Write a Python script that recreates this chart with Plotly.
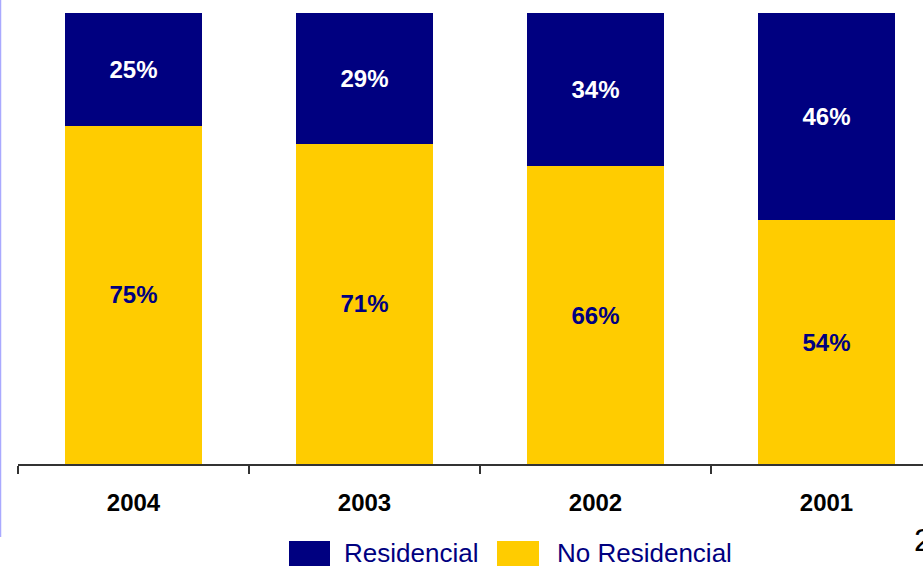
import plotly.graph_objects as go

# Share of residential vs non-residential, by year
years = ["2004", "2003", "2002", "2001"]
residencial = [25, 29, 34, 46]
no_residencial = [75, 71, 66, 54]

NAVY = "#000080"
GOLD = "#FFCC00"
FONT = "Liberation Sans, Arial, sans-serif"

W, H = 923, 566
M_L, M_R, M_T, M_B = 18, 0, 13, 102
PW = W - M_L - M_R
PH = H - M_T - M_B


def px_x(p):
    return (p - M_L) / PW


def px_y(p):
    return (H - M_B - p) / PH


fig = go.Figure()
fig.add_trace(go.Bar(
    x=years, y=no_residencial, name="No Residencial",
    marker=dict(color=GOLD, line=dict(width=0)),
    texttemplate="<b>%{y}%</b>", textposition="inside",
    insidetextanchor="middle", textangle=0,
    textfont=dict(family=FONT, size=24, color=NAVY),
    showlegend=False,
))
fig.add_trace(go.Bar(
    x=years, y=residencial, name="Residencial",
    marker=dict(color=NAVY, line=dict(width=0)),
    texttemplate="<b>%{y}%</b>", textposition="inside",
    insidetextanchor="middle", textangle=0,
    textfont=dict(family=FONT, size=24, color="white"),
    showlegend=False,
))

# legend drawn below the axis with wide swatches
legend_items = [("Residencial", NAVY, 289, 330, 342), ("No Residencial", GOLD, 497, 539, 555)]
shapes = []
annotations = []
for label, color, x0, x1, tx in legend_items:
    shapes.append(dict(type="rect", xref="paper", yref="paper",
                       x0=px_x(x0), x1=px_x(x1), y0=px_y(575), y1=px_y(541),
                       fillcolor=color, line=dict(width=0), layer="above"))
    annotations.append(dict(xref="paper", yref="paper", x=px_x(tx), y=px_y(553),
                            xanchor="left", yanchor="middle", showarrow=False,
                            text=label, font=dict(family=FONT, size=26, color=NAVY)))

# thin frame line at left edge
shapes.append(dict(type="line", xref="paper", yref="paper",
                   x0=px_x(0.5), x1=px_x(0.5), y0=px_y(0), y1=px_y(537),
                   line=dict(color="#AAAAFF", width=1.5)))

# page number at the bottom right
annotations.append(dict(xref="paper", yref="paper", x=px_x(912), y=px_y(540),
                        xanchor="left", yanchor="middle", showarrow=False,
                        text="2", font=dict(family=FONT, size=32, color="black")))

fig.update_layout(
    width=W, height=H,
    margin=dict(l=M_L, r=M_R, t=M_T, b=M_B, pad=0),
    barmode="stack", bargap=0.407,
    plot_bgcolor="white", paper_bgcolor="white",
    shapes=shapes, annotations=annotations,
    xaxis=dict(
        range=[-0.5, -0.5 + PW / 231.0],
        tickson="boundaries", ticks="outside", ticklen=8, tickwidth=1.5,
        tickcolor="#333333", showline=True, linecolor="#333333", linewidth=1.5,
        tickfont=dict(family=FONT, size=24, color="black", weight="bold"),
        ticklabelstandoff=16, showgrid=False, zeroline=False, fixedrange=True,
    ),
    yaxis=dict(range=[0, 100], visible=False, showgrid=False, zeroline=False),
)

fig.write_html("out.html")
